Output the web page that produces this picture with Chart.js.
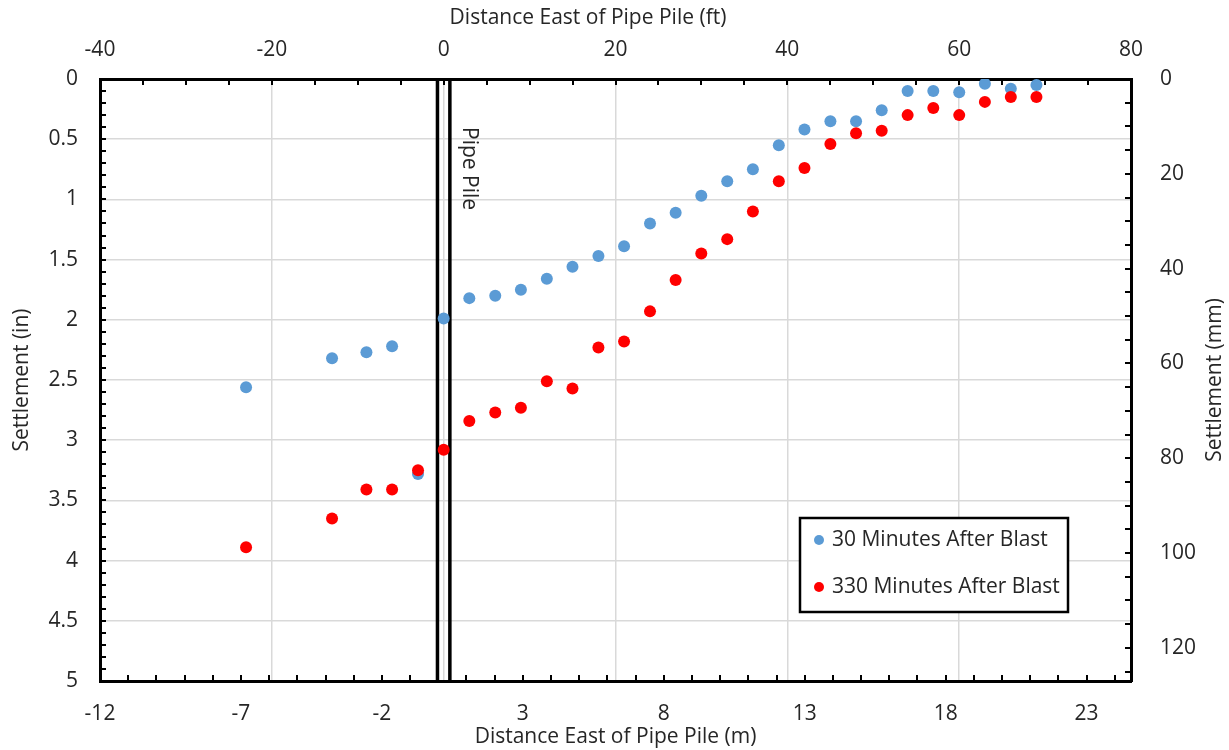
<!DOCTYPE html>
<html><head><meta charset="utf-8">
<script src="https://cdn.jsdelivr.net/npm/chart.js@4/dist/chart.umd.min.js"></script>
<style>html,body{margin:0;padding:0;background:#fff}#wrap{width:1229px;height:750px;position:relative}</style>
</head><body><div id="wrap"><canvas id="c"></canvas></div>
<script>
// ---- data ----
const distanceM = [-7.01, -3.96, -2.74, -1.83, -0.91, 0, 0.91, 1.83, 2.74, 3.66, 4.57, 5.49, 6.40, 7.32, 8.23, 9.14, 10.06, 10.97, 11.89, 12.80, 13.72, 14.63, 15.54, 16.46, 17.37, 18.29, 19.20, 20.12, 21.03];
const settle30 = [2.56, 2.32, 2.27, 2.22, 3.28, 1.99, 1.82, 1.80, 1.75, 1.66, 1.56, 1.47, 1.39, 1.20, 1.11, 0.97, 0.85, 0.75, 0.55, 0.42, 0.35, 0.35, 0.26, 0.10, 0.10, 0.11, 0.04, 0.08, 0.05];
const settle330 = [3.89, 3.65, 3.41, 3.41, 3.25, 3.08, 2.84, 2.77, 2.73, 2.51, 2.57, 2.23, 2.18, 1.93, 1.67, 1.45, 1.33, 1.10, 0.85, 0.74, 0.54, 0.45, 0.43, 0.30, 0.24, 0.30, 0.19, 0.15, 0.15];
const seriesNames = ['30 Minutes After Blast', '330 Minutes After Blast'];
const seriesColors = ['#5B9BD5', '#FF0000'];
const pileEdgesM = [-0.22, 0.22];
const pileLabel = 'Pipe Pile';

// ---- axes ----
const bottomTickValuesM = [-12.192, -7.192, -2.192, 2.808, 7.808, 12.808, 17.808, 22.808];
const bottomTickLabels = ['-12', '-7', '-2', '3', '8', '13', '18', '23'];
const topTicksFt = [-40, -20, 0, 20, 40, 60, 80];
const leftTicksIn = [0, 0.5, 1, 1.5, 2, 2.5, 3, 3.5, 4, 4.5, 5];
const leftTickLabels = ['0', '0.5', '1', '1.5', '2', '2.5', '3', '3.5', '4', '4.5', '5'];
const rightTicksMm = [0, 20, 40, 60, 80, 100, 120];
const xMinM = -12.192, xMaxM = 24.384;
const titles = {
  top: 'Distance East of Pipe Pile (ft)',
  bottom: 'Distance East of Pipe Pile (m)',
  left: 'Settlement (in)',
  right: 'Settlement (mm)'
};

const FONT = 'Open Sans';
const FS = 21;
const TXT = '#262626';
const GRID = '#d9d9d9';

const minorTicks = {
  id: 'minorTicks',
  afterDraw(chart) {
    const {ctx, chartArea: a, scales} = chart;
    const L = 6;
    ctx.save();
    ctx.strokeStyle = '#000';
    ctx.lineWidth = 2;
    ctx.beginPath();
    for (let k = 0; xMinM + k <= xMaxM + 1e-9; k++) {
      const x = Math.round(scales.x.getPixelForValue(xMinM + k));
      ctx.moveTo(x, a.bottom); ctx.lineTo(x, a.bottom - L);
    }
    for (let v = -40; v <= 80; v += 5) {
      const x = Math.round(scales.xft.getPixelForValue(v));
      ctx.moveTo(x, a.top); ctx.lineTo(x, a.top + L);
    }
    for (let k = 0; k <= 50; k++) {
      const y = Math.round(scales.y.getPixelForValue(k / 10));
      ctx.moveTo(a.left, y); ctx.lineTo(a.left + L, y);
    }
    for (let v = 0; v <= 127; v += 5) {
      const y = Math.round(scales.ymm.getPixelForValue(v));
      ctx.moveTo(a.right, y); ctx.lineTo(a.right - L, y);
    }
    ctx.stroke();
    ctx.restore();
  }
};

const extras = {
  id: 'extras',
  afterDatasetsDraw(chart) {
    const {ctx, chartArea: a, scales} = chart;
    ctx.save();
    const px = scales.x.getPixelForValue(pileEdgesM[1]) + 19;
    ctx.translate(px, a.top + 48);
    ctx.rotate(Math.PI / 2);
    ctx.font = FS + 'px ' + FONT;
    ctx.fillStyle = TXT;
    ctx.textAlign = 'left';
    ctx.textBaseline = 'middle';
    ctx.fillText(pileLabel, 0, 0);
    ctx.restore();
  },
  afterDraw(chart) {
    const {ctx, chartArea: a} = chart;
    ctx.save();
    ctx.font = FS + 'px ' + FONT;
    ctx.fillStyle = TXT;
    ctx.textAlign = 'center';
    ctx.textBaseline = 'middle';
    // top title (placed slightly left of centre, as in the reference)
    ctx.fillText(titles.top, 588, 18);
    // right title reading bottom-to-top
    ctx.translate(1215, (a.top + a.bottom) / 2);
    ctx.rotate(-Math.PI / 2);
    ctx.fillText(titles.right, 0, 0);
    ctx.restore();
    // legend
    ctx.save();
    const bx = 800, by = 518, bw = 268, bh = 94;
    ctx.fillStyle = '#fff';
    ctx.fillRect(bx, by, bw, bh);
    ctx.strokeStyle = '#000';
    ctx.lineWidth = 2.5;
    ctx.strokeRect(bx, by, bw, bh);
    ctx.font = FS + 'px ' + FONT;
    ctx.textBaseline = 'middle';
    ctx.textAlign = 'left';
    seriesNames.forEach((name, i) => {
      const cy = by + 22 + i * 47;
      ctx.fillStyle = seriesColors[i];
      ctx.beginPath(); ctx.arc(bx + 19, cy, 5, 0, Math.PI * 2); ctx.fill();
      ctx.fillStyle = TXT;
      ctx.fillText(name, bx + 32, cy);
    });
    ctx.restore();
  }
};

const tickFont = {family: FONT, size: FS};
const border = {display: true, color: '#000', width: 3};

new Chart(document.getElementById('c'), {
  type: 'scatter',
  data: {
    datasets: [
      {label: seriesNames[1], data: distanceM.map((d, i) => ({x: d, y: settle330[i]})), backgroundColor: seriesColors[1], borderWidth: 0, pointRadius: 6, order: 0},
      {label: seriesNames[0], data: distanceM.map((d, i) => ({x: d, y: settle30[i]})), backgroundColor: seriesColors[0], borderWidth: 0, pointRadius: 6, order: 1},
      {type: 'line', label: 'pile-left', data: [{x: pileEdgesM[0], y: 0}, {x: pileEdgesM[0], y: 5}], borderColor: '#000', borderWidth: 3.5, pointRadius: 0, order: 2},
      {type: 'line', label: 'pile-right', data: [{x: pileEdgesM[1], y: 0}, {x: pileEdgesM[1], y: 5}], borderColor: '#000', borderWidth: 3.5, pointRadius: 0, order: 2}
    ]
  },
  options: {
    responsive: true,
    maintainAspectRatio: false,
    animation: false,
    layout: {padding: 0},
    plugins: {legend: {display: false}, tooltip: {enabled: false}},
    scales: {
      x: {
        type: 'linear', position: 'bottom', min: xMinM, max: xMaxM,
        afterBuildTicks: s => { s.ticks = bottomTickValuesM.map(v => ({value: v})); },
        afterFit: s => { s.height = 69; },
        grid: {display: false},
        border: border,
        ticks: {font: tickFont, color: TXT, padding: 12, maxRotation: 0, autoSkip: false,
                callback: (v, i) => bottomTickLabels[i]},
        title: {display: true, text: titles.bottom, font: tickFont, color: TXT, padding: {top: 0, bottom: 0}}
      },
      xft: {
        type: 'linear', position: 'top', min: -40, max: 80,
        afterBuildTicks: s => { s.ticks = topTicksFt.map(v => ({value: v})); },
        afterFit: s => { s.height = 79; },
        grid: {display: true, drawOnChartArea: true, drawTicks: false, color: GRID, lineWidth: 1.5},
        border: border,
        ticks: {font: tickFont, color: TXT, padding: 16, maxRotation: 0, autoSkip: false},
        title: {display: false}
      },
      y: {
        type: 'linear', position: 'left', reverse: true, min: 0, max: 5,
        afterBuildTicks: s => { s.ticks = leftTicksIn.map(v => ({value: v})); },
        afterFit: s => { s.width = 100; },
        grid: {display: true, drawTicks: false, color: GRID, lineWidth: 1.5},
        border: border,
        ticks: {font: tickFont, color: TXT, padding: 22, autoSkip: false,
                callback: (v, i) => leftTickLabels[i]},
        title: {display: true, text: titles.left, font: tickFont, color: TXT, padding: {top: 9, bottom: 0}}
      },
      ymm: {
        type: 'linear', position: 'right', reverse: true, min: 0, max: 127,
        afterBuildTicks: s => { s.ticks = rightTicksMm.map(v => ({value: v})); },
        afterFit: s => { s.width = 98; },
        grid: {display: false},
        border: border,
        ticks: {font: tickFont, color: TXT, padding: 21, autoSkip: false}
      }
    }
  },
  plugins: [minorTicks, extras]
});
</script>
</body></html>
